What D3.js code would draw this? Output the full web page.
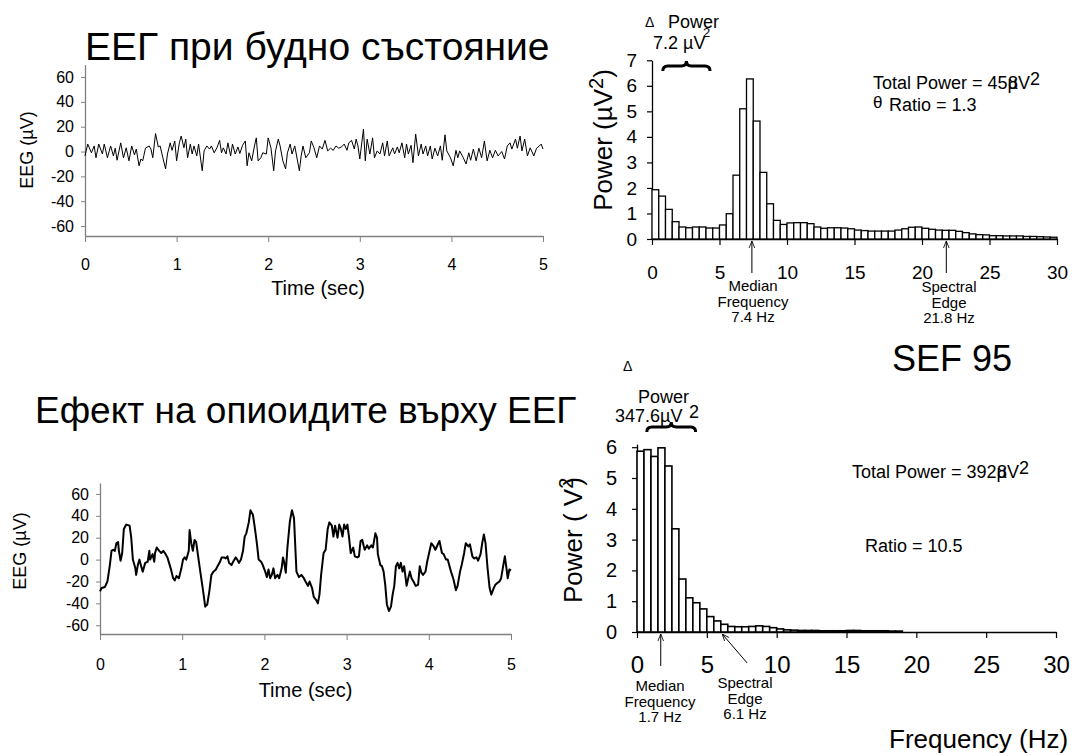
<!DOCTYPE html>
<html>
<head>
<meta charset="utf-8">
<script src="https://cdn.jsdelivr.net/npm/d3@7/dist/d3.min.js"></script>
<style>
  body { margin: 0; background: #fff; }
  svg text { font-family: "Liberation Sans", Arial, sans-serif; fill: #000; }
</style>
</head>
<body>
<svg id="chart" width="1081" height="756"></svg>
<script>
// ---- data ----
const timeTicks = [0, 1, 2, 3, 4, 5]
const eegTicks = [-60, -40, -20, 0, 20, 40, 60]
const freqTicks = [0, 5, 10, 15, 20, 25, 30]
const awakePowerTicks = [0, 1, 2, 3, 4, 5, 6, 7]
const opioidPowerTicks = [0, 1, 2, 3, 4, 5, 6]
const binWidth = 0.5

// [time (s), EEG (uV)]
const awakeTrace = [[0,-3.5],[0.03,6],[0.07,-1],[0.1,4.5],[0.12,-5],[0.15,6],[0.19,-2],[0.21,6],[0.245,-5],[0.28,4.5],[0.31,-3.5],[0.33,2.7],[0.35,-7],[0.39,7],[0.42,-5],[0.45,3],[0.48,-7.5],[0.51,4.5],[0.54,-2.7],[0.56,2],[0.59,-11.5],[0.61,-6],[0.63,-7.5],[0.66,2.7],[0.7,4.5],[0.72,2],[0.74,-5],[0.77,14.5],[0.8,3.7],[0.82,4.5],[0.85,-5],[0.88,-14],[0.9,-2],[0.93,7],[0.95,1],[0.98,8.5],[1.0,-7.5],[1.03,7],[1.05,12.5],[1.08,3],[1.1,10],[1.12,-5],[1.15,6],[1.17,-2],[1.19,4.5],[1.22,-3.5],[1.24,6],[1.28,-15.5],[1.3,0.5],[1.33,4.5],[1.36,2],[1.38,4.5],[1.41,-1],[1.44,3],[1.47,9],[1.49,-1],[1.51,3],[1.54,-2],[1.56,7],[1.59,-3.5],[1.61,6],[1.64,-2],[1.67,3.7],[1.69,-1.6],[1.72,5],[1.75,8.5],[1.77,-11.5],[1.79,-1],[1.82,-7.5],[1.85,4.5],[1.87,11],[1.89,-7.5],[1.92,-5],[1.94,-1],[1.98,-2],[2.0,11],[2.03,3],[2.06,-15.5],[2.08,0.5],[2.11,10],[2.13,4.5],[2.16,-7.5],[2.19,-14],[2.21,-1],[2.24,6],[2.26,-2],[2.29,4.5],[2.34,-15.5],[2.36,-3.5],[2.38,4.5],[2.41,-5],[2.45,-1],[2.47,8.5],[2.5,3],[2.53,-5],[2.56,4.5],[2.59,2],[2.62,9],[2.65,0.5],[2.68,2.7],[2.71,1],[2.74,4.5],[2.77,2.7],[2.8,3.7],[2.83,6],[2.86,1],[2.88,7],[2.91,9],[2.94,2],[2.96,10],[2.98,4.5],[3.0,-6],[3.04,18],[3.06,-7.5],[3.08,10],[3.11,-2],[3.14,11],[3.16,-5],[3.19,0.5],[3.22,-2],[3.25,7],[3.27,-3.5],[3.3,8.5],[3.32,-3.5],[3.36,3],[3.38,-2],[3.41,3.7],[3.43,-1],[3.46,7],[3.49,-5],[3.51,6],[3.53,-2],[3.56,5],[3.58,-9],[3.61,14],[3.64,-3.5],[3.67,6],[3.69,-2],[3.72,4.5],[3.74,-3.5],[3.77,4.5],[3.79,-6],[3.82,2.7],[3.85,-3.5],[3.88,4.5],[3.9,-7],[3.93,13.5],[3.95,0.5],[3.99,-5],[4.02,-11.5],[4.05,1],[4.07,-5],[4.09,0.5],[4.13,-5],[4.16,-10],[4.19,-1],[4.21,-7],[4.24,2],[4.27,-7.5],[4.3,2.7],[4.33,-5],[4.36,8.5],[4.39,-7.5],[4.42,1],[4.45,-5],[4.48,1],[4.51,-3.5],[4.55,0],[4.58,-6],[4.61,4.5],[4.64,7],[4.66,2],[4.7,10],[4.72,2.7],[4.75,12.5],[4.77,0.5],[4.8,10],[4.83,-3.5],[4.86,3],[4.9,-3.5],[4.93,2.7],[4.96,4.5],[4.98,6],[5.0,2]]

const opioidTrace = [[0,-29],[0.02,-26],[0.06,-25],[0.09,-20],[0.12,-5],[0.14,8],[0.16,9],[0.18,8],[0.2,15],[0.22,16],[0.23,8],[0.25,-1],[0.27,6],[0.29,28],[0.32,32],[0.36,31],[0.38,20],[0.4,0],[0.43,-8],[0.44,-14],[0.46,-5],[0.48,0],[0.5,-6],[0.52,-11],[0.55,-3],[0.58,-2],[0.6,8],[0.61,0],[0.64,5],[0.66,-2],[0.67,6],[0.69,11],[0.72,8],[0.745,6],[0.77,8],[0.79,6],[0.82,2],[0.86,-8],[0.89,-17],[0.91,-19],[0.93,-15],[0.96,-17],[0.99,-8],[1.01,0],[1.03,2],[1.05,0],[1.08,8],[1.09,27],[1.11,15],[1.13,8],[1.15,18],[1.17,16],[1.19,5],[1.22,-11],[1.255,-29],[1.28,-43],[1.305,-41],[1.33,-29],[1.355,-14],[1.38,-11],[1.41,-9],[1.43,-6],[1.46,-2],[1.48,2],[1.51,2],[1.53,1],[1.55,3],[1.57,-3],[1.6,-5],[1.62,-2],[1.65,2],[1.67,0],[1.69,-3],[1.715,0],[1.74,8],[1.76,21],[1.78,24],[1.81,34],[1.83,45],[1.86,41],[1.88,31],[1.91,14],[1.93,0],[1.96,-2],[1.98,-5],[2.01,-11],[2.03,-16],[2.05,-9],[2.07,-17],[2.09,-14],[2.11,-8],[2.13,-17],[2.16,-14],[2.18,-17],[2.21,-8],[2.226,2],[2.24,-2],[2.26,-12],[2.28,11],[2.31,35],[2.335,45],[2.36,38],[2.38,5],[2.39,-11],[2.42,-16],[2.45,-14],[2.48,-17],[2.5,-20],[2.53,-24],[2.55,-20],[2.58,-26],[2.6,-34],[2.63,-37],[2.65,-40],[2.67,-32],[2.69,-14],[2.72,6],[2.745,9],[2.77,28],[2.79,34],[2.82,31],[2.84,21],[2.86,31],[2.89,20],[2.91,32],[2.93,28],[2.95,21],[2.97,32],[2.99,28],[3.01,32],[3.03,20],[3.05,6],[3.08,11],[3.1,3],[3.13,2],[3.15,3],[3.17,17],[3.19,18],[3.22,9],[3.25,13],[3.27,10],[3.3,13],[3.32,11],[3.35,24],[3.37,20],[3.38,5],[3.41,-5],[3.43,-6],[3.45,-11],[3.47,-23],[3.49,-41],[3.515,-47],[3.54,-43],[3.56,-32],[3.58,-24],[3.6,-6],[3.62,-3],[3.64,-8],[3.66,-3],[3.68,-11],[3.7,-6],[3.73,-24],[3.75,-17],[3.77,-11],[3.79,-17],[3.82,-21],[3.84,-24],[3.87,-23],[3.89,-6],[3.91,-12],[3.93,-14],[3.96,-11],[3.98,-2],[4.01,8],[4.03,15],[4.06,12],[4.08,9],[4.11,14],[4.13,17],[4.16,6],[4.18,5],[4.21,0],[4.23,0],[4.27,-11],[4.3,-18],[4.33,-28],[4.35,-24],[4.38,-11],[4.4,-5],[4.43,6],[4.45,15],[4.48,12],[4.5,14],[4.53,3],[4.55,1],[4.58,2],[4.6,-1],[4.63,5],[4.65,15],[4.67,23],[4.69,15],[4.715,-8],[4.74,-26],[4.76,-32],[4.79,-26],[4.81,-23],[4.84,-21],[4.86,-20],[4.88,-17],[4.9,-8],[4.925,3],[4.94,-5],[4.96,-17],[4.98,-9],[5.0,-10]]

// power per 0.5 Hz bin, starting at 0 Hz
const awakePower = [1.93,1.68,1.16,0.68,0.47,0.44,0.47,0.47,0.43,0.43,
  0.55,0.99,2.5,5.1,6.27,4.62,2.61,1.38,0.73,0.57,
  0.63,0.64,0.64,0.6,0.47,0.42,0.44,0.44,0.43,0.4,
  0.35,0.33,0.31,0.31,0.31,0.31,0.35,0.4,0.46,0.47,
  0.42,0.38,0.35,0.34,0.34,0.3,0.25,0.2,0.17,0.16,
  0.13,0.13,0.12,0.12,0.12,0.1,0.1,0.09,0.08,0.07]

const opioidPower = [5.87,5.92,5.7,5.98,5.39,3.35,1.72,1.11,0.95,0.75,
  0.5,0.36,0.25,0.18,0.17,0.17,0.18,0.2,0.18,0.14,
  0.1,0.07,0.06,0.05,0.05,0.05,0.04,0.04,0.04,0.04,
  0.05,0.05,0.04,0.04,0.04,0.04,0.03,0.03]

const awakeMarkers = [
  {f: 7.4, lines: ["Median", "Frequency", "7.4 Hz"]},
  {f: 21.8, lines: ["Spectral", "Edge", "21.8 Hz"]}]
const opioidMarkers = [
  {f: 1.7, lines: ["Median", "Frequency", "1.7 Hz"]},
  {f: 6.1, lines: ["Spectral", "Edge", "6.1 Hz"]}]
const awakeDeltaBand = [0.8, 4.3]
const opioidDeltaBand = [0.7, 4.2]

// ---- drawing ----
let svg = d3.select("#chart")

svg.append("rect").attr("width", 1081).attr("height", 756).attr("fill", "#fff")

// plain hyphen for negatives, no decimals
let plain = d => String(d)

let defs = svg.append("defs")
defs.append("marker")
    .attr("id", "arrow")
    .attr("viewBox", "0 0 10 10")
    .attr("refX", 10).attr("refY", 5)
    .attr("markerWidth", 7).attr("markerHeight", 7)
    .attr("orient", "auto")
    .append("path")
    .attr("d", "M0,1 L10,5 L0,9")
    .attr("fill", "none")
    .attr("stroke", "#000")
    .attr("stroke-width", 1.2)

function eegPanel(trace, box, o) {
  let x = d3.scaleLinear().domain([0, 5]).range([box.left, box.right])
  let y = d3.scaleLinear().domain([-68, 70]).range([box.bottom, box.top])

  let xAxis = svg.append("g")
      .attr("transform", "translate(0," + box.bottom + ")")
      .call(d3.axisBottom(x).tickValues(timeTicks).tickFormat(plain)
              .tickSize(6).tickSizeOuter(0).tickPadding(o.xPad))
  let yAxis = svg.append("g")
      .attr("transform", "translate(" + box.left + ",0)")
      .call(d3.axisLeft(y).tickValues(eegTicks).tickFormat(plain)
              .tickSize(4).tickSizeOuter(0).tickPadding(7))

  for (let a of [xAxis, yAxis]) {
    a.select(".domain").attr("stroke", "#808080").attr("stroke-width", 1.3)
    a.selectAll(".tick line").attr("stroke", "#808080")
    a.selectAll(".tick text").attr("font-size", o.tickFont).attr("font-family", "Liberation Sans, Arial, sans-serif")
  }

  svg.append("path")
     .datum(trace)
     .attr("fill", "none")
     .attr("stroke", "#000")
     .attr("stroke-width", o.stroke)
     .attr("stroke-linejoin", "round")
     .attr("d", d3.line().x(d => x(d[0])).y(d => y(d[1])))

  svg.append("text")
     .attr("x", (box.left + box.right) / 2 + o.titleShift)
     .attr("y", o.xTitleY)
     .attr("text-anchor", "middle")
     .attr("font-size", 20)
     .text("Time (sec)")

  svg.append("text")
     .attr("transform", "translate(" + o.yTitleX + "," + o.yTitleY + ") rotate(-90)")
     .attr("text-anchor", "middle")
     .attr("font-size", 18)
     .text("EEG (µV)")
}

function spectrumPanel(values, box, o) {
  let x = d3.scaleLinear().domain([0, 30]).range([box.left, box.right])
  let y = d3.scaleLinear().domain([0, o.yMax]).range([box.bottom, box.bottom - o.unit * o.yMax])

  let xAxis = svg.append("g")
      .attr("transform", "translate(0," + box.bottom + ")")
      .call(d3.axisBottom(x).tickValues(freqTicks).tickFormat(plain)
              .tickSize(6).tickSizeOuter(0).tickPadding(o.xPad))
  let yAxis = svg.append("g")
      .attr("transform", "translate(" + box.left + ",0)")
      .call(d3.axisLeft(y).tickValues(o.yTicks).tickFormat(plain)
              .tickSize(5).tickSizeOuter(0).tickPadding(o.yPad))

  xAxis.selectAll(".tick text").attr("font-size", o.xFont)
  yAxis.selectAll(".tick text").attr("font-size", o.yFont)
  for (let a of [xAxis, yAxis]) {
    a.select(".domain").attr("stroke", "#000").attr("stroke-width", 1.3)
    a.selectAll(".tick line").attr("stroke", "#000").attr("stroke-width", 1.2)
    a.selectAll(".tick text").attr("font-family", "Liberation Sans, Arial, sans-serif")
  }

  svg.append("g")
     .selectAll("rect")
     .data(values)
     .join("rect")
     .attr("x", (d, i) => x(i * binWidth))
     .attr("width", x(binWidth) - x(0))
     .attr("y", d => y(d))
     .attr("height", d => y(0) - y(d))
     .attr("fill", "#fff")
     .attr("stroke", "#000")
     .attr("stroke-width", o.barStroke)

  // median / spectral edge arrows and labels
  o.markers.forEach(function(m, i) {
    let ax = x(m.f)
    let from = i == 1 && o.slantEdge ? [ax + 25, box.bottom + 31] : [ax, box.bottom + 34]
    svg.append("line")
       .attr("x1", from[0]).attr("y1", from[1])
       .attr("x2", ax).attr("y2", box.bottom + 2)
       .attr("stroke", "#000")
       .attr("stroke-width", 1)
       .attr("marker-end", "url(#arrow)")
    let t = svg.append("text")
       .attr("text-anchor", "middle")
       .attr("font-size", 15)
    m.lines.forEach(function(s, j) {
      t.append("tspan")
       .attr("x", o.labelX[i])
       .attr("y", o.labelY[i] + j * 15.5)
       .text(s)
    })
  })

  // curly brace over the delta band
  let b0 = x(o.band[0]), b1 = x(o.band[1]), bm = (b0 + b1) / 2, by = o.braceY, h = 5
  svg.append("path")
     .attr("d", "M" + b0 + "," + (by + h) +
                "Q" + b0 + "," + by + " " + (b0 + h) + "," + by +
                "L" + (bm - h) + "," + by +
                "Q" + bm + "," + by + " " + bm + "," + (by - h) +
                "Q" + bm + "," + by + " " + (bm + h) + "," + by +
                "L" + (b1 - h) + "," + by +
                "Q" + b1 + "," + by + " " + b1 + "," + (by + h))
     .attr("fill", "none")
     .attr("stroke", "#000")
     .attr("stroke-width", 3)

  svg.append("text")
     .attr("transform", "translate(" + o.yTitleX + "," + o.yTitleY + ") rotate(-90)")
     .attr("text-anchor", "middle")
     .attr("font-size", 26)
     .html(o.yTitle)
}

// titles
svg.append("text").attr("x", 85).attr("y", 60).attr("font-size", 39).text("ЕЕГ при будно състояние")
svg.append("text").attr("x", 35).attr("y", 423).attr("font-size", 37).text("Ефект на опиоидите върху ЕЕГ")
svg.append("text").attr("x", 892).attr("y", 371).attr("font-size", 36).text("SEF 95")
svg.append("text").attr("x", 889).attr("y", 748).attr("font-size", 26).text("Frequency (Hz)")

eegPanel(awakeTrace, {left: 85, right: 543, top: 64.6, bottom: 236},
  {xPad: 17, tickFont: 16, stroke: 1, titleShift: 4, xTitleY: 295, yTitleX: 33, yTitleY: 150})

eegPanel(opioidTrace, {left: 100, right: 511, top: 483, bottom: 634},
  {xPad: 19, tickFont: 16, stroke: 2, titleShift: 0, xTitleY: 697, yTitleX: 26, yTitleY: 551})

spectrumPanel(awakePower, {left: 652, right: 1057, bottom: 239},
  {yMax: 7, unit: 25.53, yTicks: awakePowerTicks, xPad: 21, yPad: 10, xFont: 19, yFont: 19,
   barStroke: 1.3, markers: awakeMarkers, labelX: [753, 949], labelY: [291, 292],
   band: awakeDeltaBand, braceY: 66, yTitleX: 612, yTitleY: 140,
   yTitle: 'Power (µV<tspan dy="-9" font-size="20">2</tspan><tspan dy="9">)</tspan>'})

spectrumPanel(opioidPower, {left: 637, right: 1056, bottom: 632},
  {yMax: 6.1, unit: 30.8, yTicks: opioidPowerTicks, xPad: 18, yPad: 15, xFont: 24, yFont: 20,
   barStroke: 1.6, markers: opioidMarkers, labelX: [660, 745], labelY: [691, 688], slantEdge: true,
   band: opioidDeltaBand, braceY: 427, yTitleX: 582, yTitleY: 540,
   yTitle: 'Power ( V<tspan dy="-9" font-size="20">2</tspan><tspan dy="9" dx="-8">)</tspan>'})

// delta power / total power annotations
function note(x, y, size, html, family) {
  svg.append("text").attr("x", x).attr("y", y).attr("font-size", size)
     .attr("font-family", family || null).html(html)
}
note(645, 27, 14, "Δ", "Liberation Serif, serif")
note(668, 28, 18, "Power")
note(653, 49, 18, "7.2 µV")
note(703, 37, 13, "2")
note(873, 89, 18, 'Total Power = 45µ<tspan dx="-10">8</tspan>V<tspan dy="-4">2</tspan>')
note(873, 108, 17, "θ", "Liberation Serif, serif")
note(889, 111, 18, "Ratio = 1.3")

note(623, 371, 14, "Δ", "Liberation Serif, serif")
note(638, 403, 18, "Power")
note(615, 422, 18, "347.6µV")
note(689, 418, 18, "2")
note(852, 478, 18, 'Total Power = 392µ<tspan dx="-10">8</tspan>V<tspan dy="-4">2</tspan>')
note(865, 552, 18, "Ratio = 10.5")
</script>
</body>
</html>
